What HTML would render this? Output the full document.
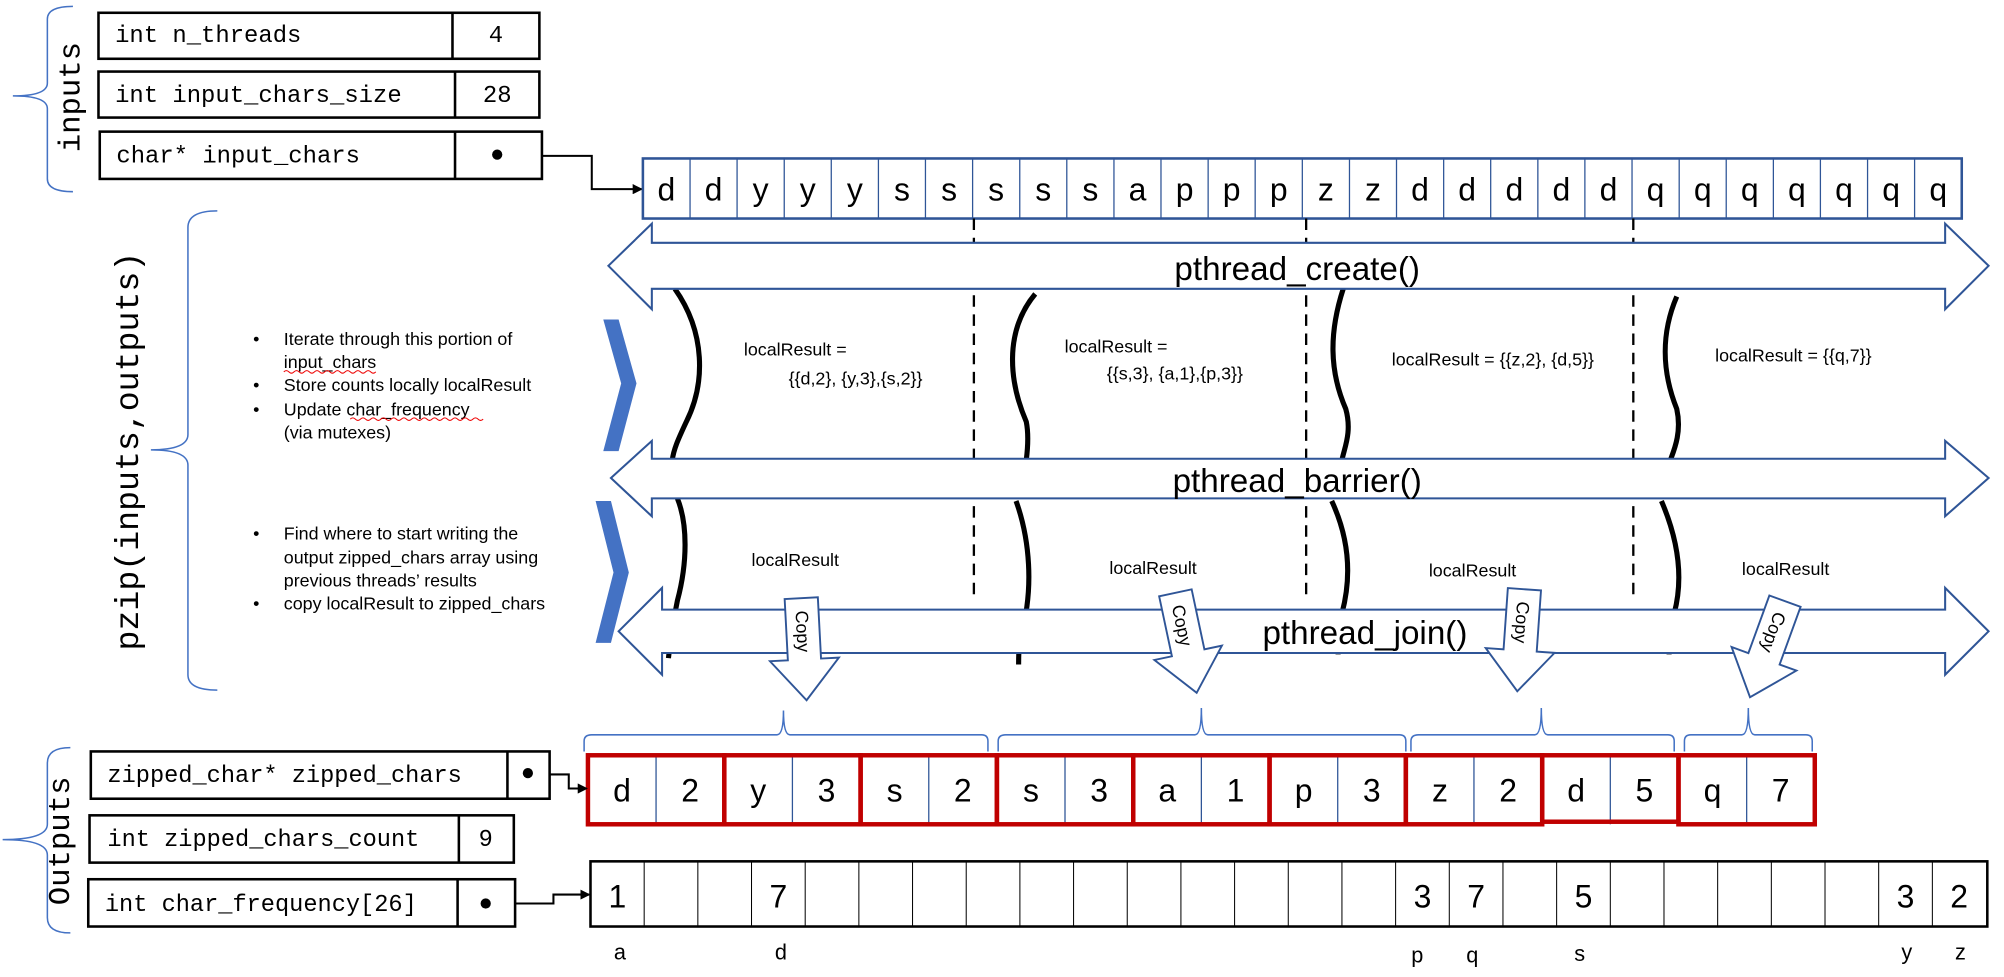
<!DOCTYPE html>
<html><head><meta charset="utf-8"><style>
html,body{margin:0;padding:0;background:#fff;}
svg{display:block;}
.mono{font-family:"Liberation Mono",monospace;}
.sans{font-family:"Liberation Sans",sans-serif;}
</style></head><body>
<svg width="2004" height="977" viewBox="0 0 1568 764.5" xmlns="http://www.w3.org/2000/svg">
<defs>
<marker id="ah" markerWidth="8" markerHeight="8" refX="7" refY="4" orient="auto" markerUnits="userSpaceOnUse"><path d="M0,0 L8,4 L0,8 z" fill="#000"/></marker>
<g id="copy">
<path d="M-13,-40 L13,-40 L13,8 L27,8 L0,40 L-27,8 L-13,8 z" fill="#fff" stroke="#2f5597" stroke-width="1.5"/>
<text transform="translate(-5,-14) rotate(90)" class="sans" font-size="14" text-anchor="middle">Copy</text>
</g>
</defs>

<path d="M57,5 Q37,5 37,15 L37,65 Q37,75 10,75 Q37,75 37,85 L37,140 Q37,150 57,150" fill="none" stroke="#4472c4" stroke-width="1.2"/>
<text transform="translate(62,76) rotate(-90)" class="mono" font-size="24" text-anchor="middle">inputs</text>

<g fill="none" stroke="#000" stroke-width="2">
<rect x="77" y="10" width="345" height="36"/><line x1="354" y1="10" x2="354" y2="46"/>
<rect x="77" y="56" width="345" height="36"/><line x1="356" y1="56" x2="356" y2="92"/>
<rect x="78" y="103" width="346" height="37"/><line x1="356" y1="103" x2="356" y2="140"/>
</g>
<g class="mono" font-size="18.7">
<text x="90" y="33">int n_threads</text><text x="388" y="33" text-anchor="middle">4</text>
<text x="90" y="80">int input_chars_size</text><text x="389" y="80" text-anchor="middle">28</text>
<text x="91" y="127">char* input_chars</text>
</g>
<circle cx="389" cy="121" r="4" fill="#000"/>
<path d="M424,122 L463,122 L463,148 L502,148" fill="none" stroke="#000" stroke-width="1.6" marker-end="url(#ah)"/>

<rect x="503" y="124" width="1032" height="47" fill="none" stroke="#2f5597" stroke-width="2"/>
<g stroke="#2f5597" stroke-width="1">
<line x1="539.9" y1="124" x2="539.9" y2="171"/><line x1="576.7" y1="124" x2="576.7" y2="171"/><line x1="613.6" y1="124" x2="613.6" y2="171"/><line x1="650.4" y1="124" x2="650.4" y2="171"/><line x1="687.3" y1="124" x2="687.3" y2="171"/><line x1="724.1" y1="124" x2="724.1" y2="171"/><line x1="761" y1="124" x2="761" y2="171"/><line x1="797.9" y1="124" x2="797.9" y2="171"/><line x1="834.7" y1="124" x2="834.7" y2="171"/><line x1="871.6" y1="124" x2="871.6" y2="171"/><line x1="908.4" y1="124" x2="908.4" y2="171"/><line x1="945.3" y1="124" x2="945.3" y2="171"/><line x1="982.1" y1="124" x2="982.1" y2="171"/><line x1="1019" y1="124" x2="1019" y2="171"/><line x1="1055.9" y1="124" x2="1055.9" y2="171"/><line x1="1092.7" y1="124" x2="1092.7" y2="171"/><line x1="1129.6" y1="124" x2="1129.6" y2="171"/><line x1="1166.4" y1="124" x2="1166.4" y2="171"/><line x1="1203.3" y1="124" x2="1203.3" y2="171"/><line x1="1240.1" y1="124" x2="1240.1" y2="171"/><line x1="1277" y1="124" x2="1277" y2="171"/><line x1="1313.9" y1="124" x2="1313.9" y2="171"/><line x1="1350.7" y1="124" x2="1350.7" y2="171"/><line x1="1387.6" y1="124" x2="1387.6" y2="171"/><line x1="1424.4" y1="124" x2="1424.4" y2="171"/><line x1="1461.3" y1="124" x2="1461.3" y2="171"/><line x1="1498.1" y1="124" x2="1498.1" y2="171"/>
</g>
<g class="sans" font-size="25" text-anchor="middle">
<text x="521.4" y="157">d</text><text x="558.3" y="157">d</text><text x="595.1" y="157">y</text><text x="632" y="157">y</text><text x="668.9" y="157">y</text><text x="705.7" y="157">s</text><text x="742.6" y="157">s</text><text x="779.4" y="157">s</text><text x="816.3" y="157">s</text><text x="853.1" y="157">s</text><text x="890" y="157">a</text><text x="926.9" y="157">p</text><text x="963.7" y="157">p</text><text x="1000.6" y="157">p</text><text x="1037.4" y="157">z</text><text x="1074.3" y="157">z</text><text x="1111.1" y="157">d</text><text x="1148" y="157">d</text><text x="1184.9" y="157">d</text><text x="1221.7" y="157">d</text><text x="1258.6" y="157">d</text><text x="1295.4" y="157">q</text><text x="1332.3" y="157">q</text><text x="1369.1" y="157">q</text><text x="1406" y="157">q</text><text x="1442.9" y="157">q</text><text x="1479.7" y="157">q</text><text x="1516.6" y="157">q</text>
</g>

<g stroke="#000" stroke-width="1.8" stroke-dasharray="9,6">
<line x1="762" y1="171" x2="762" y2="470"/><line x1="1022" y1="171" x2="1022" y2="470"/><line x1="1278" y1="171" x2="1278" y2="470"/>
</g>

<g fill="none" stroke="#000" stroke-width="4">
<path d="M528,226 C552,260 552,300 537,330 C530,345 527,352 526,360"/>
<path d="M530,390 C538,410 538,440 530,470 C526,490 524,505 523,515"/>
<path d="M810,230 C785,260 790,300 803,330 C805,340 804,352 803,360"/>
<path d="M795,392 C805,420 810,460 798,500 C797,508 797,515 797,520"/>
<path d="M1051,226 C1040,260 1040,290 1053,320 C1058,338 1052,350 1050,360"/>
<path d="M1042,392 C1055,420 1058,450 1050,480 C1048,495 1047,505 1047,512"/>
<path d="M1312,232 C1300,260 1300,290 1312,320 C1316,338 1310,352 1307,360"/>
<path d="M1300,392 C1312,420 1318,450 1310,480 C1307,495 1306,505 1306,512"/>
</g>

<g fill="#fff" stroke="#2f5597" stroke-width="1.6">
<path d="M476,208 L510,175 L510,190 L1522,190 L1522,175 L1556,208 L1522,242 L1522,226 L510,226 L510,242 z"/>
<path d="M478,374 L510,345 L510,359 L1522,359 L1522,345 L1556,374 L1522,404 L1522,390 L510,390 L510,404 z"/>
<path d="M484,494 L518,460 L518,477 L1522,477 L1522,460 L1556,494 L1522,528 L1522,511 L518,511 L518,528 z"/>
</g>
<g class="sans" font-size="26" text-anchor="middle">
<text x="1015" y="219">pthread_create()</text>
<text x="1015" y="385">pthread_barrier()</text>
<text x="1068" y="504">pthread_join()</text>
</g>

<g class="sans" font-size="14">
<text x="582" y="278">localResult =</text><text x="617" y="301">{{d,2}, {y,3},{s,2}}</text>
<text x="833" y="276">localResult =</text><text x="866" y="297">{{s,3}, {a,1},{p,3}}</text>
<text x="1089" y="286">localResult = {{z,2}, {d,5}}</text>
<text x="1342" y="283">localResult = {{q,7}}</text>
<text x="588" y="443">localResult</text>
<text x="868" y="449">localResult</text>
<text x="1118" y="451">localResult</text>
<text x="1363" y="450">localResult</text>
</g>

<path d="M472,250 L484,250 L498,300 L484,353 L472,353 L486,300 z" fill="#4472c4"/>
<path d="M466,392 L478,392 L492,448 L478,503 L466,503 L480,448 z" fill="#4472c4"/>

<path d="M170,165 Q147,165 147,178 L147,340 Q147,352 118,352 Q147,352 147,364 L147,528 Q147,540 170,540" fill="none" stroke="#4472c4" stroke-width="1.2"/>
<text transform="translate(108,353) rotate(-90)" class="mono" font-size="26" text-anchor="middle">pzip(inputs,outputs)</text>

<g class="sans" font-size="14">
<text x="198" y="270">•</text><text x="222" y="270">Iterate through this portion of</text>
<text x="222" y="288">input_chars</text>
<text x="198" y="306">•</text><text x="222" y="306">Store counts locally localResult</text>
<text x="198" y="325">•</text><text x="222" y="325">Update char_frequency</text>
<text x="222" y="343">(via mutexes)</text>
<text x="198" y="422">•</text><text x="222" y="422">Find where to start writing the</text>
<text x="222" y="441">output zipped_chars array using</text>
<text x="222" y="459">previous threads’ results</text>
<text x="198" y="477">•</text><text x="222" y="477">copy localResult to zipped_chars</text>
</g>
<path d="M222,291 q2,-2 4,0 t4,0 t4,0 t4,0 t4,0 t4,0 t4,0 t4,0 t4,0 t4,0 t4,0 t4,0 t4,0 t4,0 t4,0 t4,0 t4,0 t4,0" fill="none" stroke="#e00" stroke-width="0.8"/>
<path d="M274,328 q2,-2 4,0 t4,0 t4,0 t4,0 t4,0 t4,0 t4,0 t4,0 t4,0 t4,0 t4,0 t4,0 t4,0 t4,0 t4,0 t4,0 t4,0 t4,0 t4,0 t4,0 t4,0 t4,0 t4,0 t4,0 t4,0 t4,0" fill="none" stroke="#e00" stroke-width="0.8"/>

<use href="#copy" transform="translate(629,508) rotate(-3)"/>
<use href="#copy" transform="translate(928,503) rotate(-12)"/>
<use href="#copy" transform="translate(1190,501) rotate(4)"/>
<use href="#copy" transform="translate(1383,508) rotate(20)"/>

<g fill="none" stroke="#4472c4" stroke-width="1.2">
<path d="M457,588 L457,580 Q457,575 463,575 L608,575 Q613,575 613,556 Q613,575 618,575 L768,575 Q773,575 773,580 L773,588"/>
<path d="M781,588 L781,580 Q781,575 787,575 L935,575 Q940,575 940,554 Q940,575 945,575 L1095,575 Q1100,575 1100,580 L1100,588"/>
<path d="M1104,588 L1104,580 Q1104,575 1110,575 L1201,575 Q1206,575 1206,554 Q1206,575 1211,575 L1305,575 Q1310,575 1310,580 L1310,588"/>
<path d="M1318,588 L1318,580 Q1318,575 1323,575 L1363,575 Q1368,575 1368,554 Q1368,575 1373,575 L1413,575 Q1418,575 1418,580 L1418,588"/>
</g>

<g stroke="#2f5597" stroke-width="1">
<line x1="513.3" y1="590" x2="513.3" y2="645"/><line x1="620" y1="590" x2="620" y2="645"/><line x1="726.7" y1="590" x2="726.7" y2="645"/><line x1="833.3" y1="590" x2="833.3" y2="645"/><line x1="940" y1="590" x2="940" y2="645"/><line x1="1046.7" y1="590" x2="1046.7" y2="645"/><line x1="1153.3" y1="590" x2="1153.3" y2="645"/><line x1="1260" y1="590" x2="1260" y2="645"/><line x1="1366.7" y1="590" x2="1366.7" y2="645"/>
</g>
<g fill="none" stroke="#c00000" stroke-width="3.5">
<rect x="460" y="591" width="106.7" height="54"/><rect x="566.7" y="591" width="106.7" height="54"/><rect x="673.3" y="591" width="106.7" height="54"/><rect x="780" y="591" width="106.7" height="54"/><rect x="886.7" y="591" width="106.7" height="54"/><rect x="993.3" y="591" width="106.7" height="54"/><rect x="1100" y="591" width="106.7" height="54"/><rect x="1206.7" y="591" width="106.7" height="52"/><rect x="1313.3" y="591" width="106.7" height="54"/>
</g>
<g class="sans" font-size="25" text-anchor="middle">
<text x="486.7" y="627">d</text><text x="540" y="627">2</text><text x="593.3" y="627">y</text><text x="646.7" y="627">3</text><text x="700" y="627">s</text><text x="753.3" y="627">2</text><text x="806.7" y="627">s</text><text x="860" y="627">3</text><text x="913.3" y="627">a</text><text x="966.7" y="627">1</text><text x="1020" y="627">p</text><text x="1073.3" y="627">3</text><text x="1126.7" y="627">z</text><text x="1180" y="627">2</text><text x="1233.3" y="627">d</text><text x="1286.7" y="627">5</text><text x="1340" y="627">q</text><text x="1393.3" y="627">7</text>
</g>

<path d="M55,585 Q37,585 37,597 L37,645 Q37,657 2,657 Q37,657 37,669 L37,718 Q37,730 55,730" fill="none" stroke="#4472c4" stroke-width="1.2"/>
<text transform="translate(54,658) rotate(-90)" class="mono" font-size="24" text-anchor="middle">Outputs</text>

<g fill="none" stroke="#000" stroke-width="2">
<rect x="71" y="588" width="359" height="37"/><line x1="397" y1="588" x2="397" y2="625"/>
<rect x="70" y="638" width="332" height="37"/><line x1="359" y1="638" x2="359" y2="675"/>
<rect x="69" y="688" width="334" height="37"/><line x1="358" y1="688" x2="358" y2="725"/>
</g>
<g class="mono" font-size="18.5">
<text x="84" y="612">zipped_char* zipped_chars</text>
<text x="84" y="662">int zipped_chars_count</text><text x="380" y="662" text-anchor="middle">9</text>
<text x="82" y="713">int char_frequency[26]</text>
</g>
<circle cx="413" cy="605" r="4" fill="#000"/>
<circle cx="380" cy="707" r="4" fill="#000"/>
<path d="M430,606 L445,606 L445,617 L459,617" fill="none" stroke="#000" stroke-width="1.6" marker-end="url(#ah)"/>
<path d="M403,707 L433,707 L433,700 L461,700" fill="none" stroke="#000" stroke-width="1.6" marker-end="url(#ah)"/>

<rect x="462" y="674" width="1093" height="51" fill="none" stroke="#000" stroke-width="2"/>
<g stroke="#000" stroke-width="0.8">
<line x1="504" y1="674" x2="504" y2="725"/><line x1="546" y1="674" x2="546" y2="725"/><line x1="588" y1="674" x2="588" y2="725"/><line x1="630" y1="674" x2="630" y2="725"/><line x1="672" y1="674" x2="672" y2="725"/><line x1="714" y1="674" x2="714" y2="725"/><line x1="756" y1="674" x2="756" y2="725"/><line x1="798" y1="674" x2="798" y2="725"/><line x1="840" y1="674" x2="840" y2="725"/><line x1="882" y1="674" x2="882" y2="725"/><line x1="924" y1="674" x2="924" y2="725"/><line x1="966" y1="674" x2="966" y2="725"/><line x1="1008" y1="674" x2="1008" y2="725"/><line x1="1050" y1="674" x2="1050" y2="725"/><line x1="1092" y1="674" x2="1092" y2="725"/><line x1="1134" y1="674" x2="1134" y2="725"/><line x1="1176" y1="674" x2="1176" y2="725"/><line x1="1218" y1="674" x2="1218" y2="725"/><line x1="1260" y1="674" x2="1260" y2="725"/><line x1="1302" y1="674" x2="1302" y2="725"/><line x1="1344" y1="674" x2="1344" y2="725"/><line x1="1386" y1="674" x2="1386" y2="725"/><line x1="1428" y1="674" x2="1428" y2="725"/><line x1="1470" y1="674" x2="1470" y2="725"/><line x1="1512" y1="674" x2="1512" y2="725"/>
</g>
<g class="sans" font-size="25" text-anchor="middle">
<text x="483" y="710">1</text><text x="609" y="710">7</text><text x="1113" y="710">3</text><text x="1155" y="710">7</text><text x="1239" y="710">5</text><text x="1491" y="710">3</text><text x="1533" y="710">2</text>
</g>
<g class="sans" font-size="17" text-anchor="middle">
<text x="485" y="751">a</text><text x="611" y="751">d</text><text x="1109" y="753">p</text><text x="1152" y="753">q</text><text x="1236" y="752">s</text><text x="1492" y="751">y</text><text x="1534" y="751">z</text>
</g>
</svg>
</body></html>
